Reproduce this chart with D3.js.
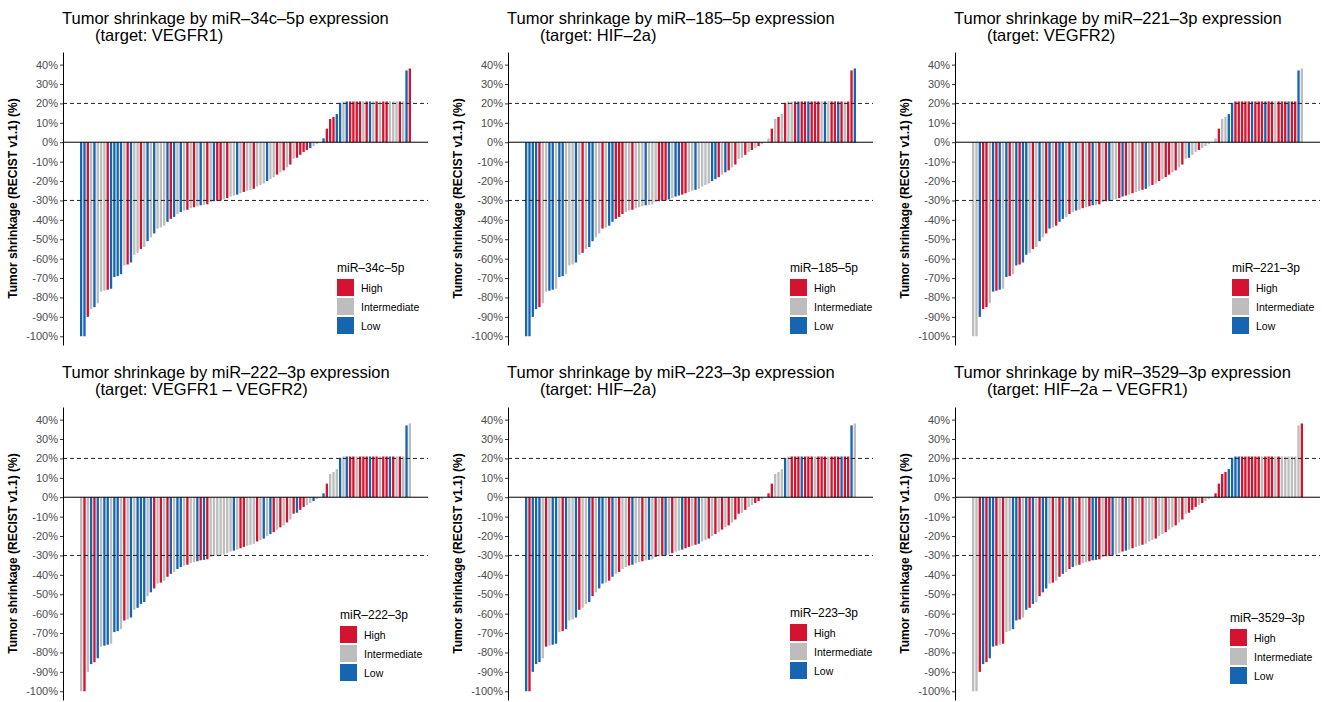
<!DOCTYPE html>
<html>
<head>
<meta charset="utf-8">
<script src="https://cdn.jsdelivr.net/npm/d3@7"></script>
<style>
  body { margin: 0; background: #fff; }
  svg { display: block; font-family: Arial, "Liberation Sans", sans-serif; }
</style>
</head>
<body>
<svg id="chart" width="1322" height="702"></svg>
<script>
// sorted tumour shrinkage, one value per patient (%)
const shrinkage = [-100, -100, -90, -86, -85, -83, -77, -76.5, -76, -75.5,
  -69.5, -69, -68, -63.5, -63, -62, -58, -57, -55, -54,
  -51, -49, -47, -44.5, -44, -43, -41, -39.5, -38.5, -37,
  -36, -35.2, -34.8, -34, -33.5, -33, -32.5, -32.3, -32, -30.8,
  -30.4, -30.2, -30, -29.5, -28.8, -28, -27.5, -27, -26.3, -25.6,
  -25, -24.5, -24, -22.8, -22, -21.3, -20, -19, -18, -16.7,
  -15.5, -14.5, -13, -11.5, -8.5, -8, -6.5, -5, -4, -3,
  -2, -1, 0, 2, 7, 12, 13, 14.5, 20.3, 21,
  21, 21, 21, 21, 21, 21, 21, 21, 21, 21,
  21, 21, 21, 21, 21, 21, 21, 21, 37, 38];

// expression group per bar (10 bars per string), H = High, I = Intermediate, L = Low
const grp34c = ["LLHILIIIHL", "LLLIHLIIHI", "LILIIILHLI", "LIHIHILIHI", "LHHIHIILIH",
  "IIHIIILIIH", "IHIHIHHHHL", "IIILHHHLLI", "LHHHHIHLIH", "IHHIIIHILH"].join("").split("");
const grp185 = ["LLLLHIILLI", "LLIIILIHIL", "LIIHILLHHH", "IIHIIILIII", "HHHLILLHHI",
  "ILIIIILLHI", "LHIHIIHIHI", "HIIIHIHIHI", "IHLHHLHHHI", "LIHHLHIHHL"].join("").split("");
const grp221 = ["IILHHILHLI", "LHILHLLIHI", "LIHLIHLLIH", "ILIHIHLIHI", "HLIIHLHIHI",
  "IHLIHIHIHH", "IHIHILIIHI", "IIIIHIILLH", "HHHHLHHHLH", "HIHHHLHHLI"].join("").split("");
const grp222 = ["IHILHLILLI", "LLIHILILLL", "ILHIHIHLIL", "LIHIILHLHI", "IIIIIILIHH",
  "IIIHILILHI", "HIHIHLHHII", "LIILHIIILI", "LHHIHHHLHH", "IHHLHIHILI"].join("").split("");
const grp223 = ["LHLLLIHILL", "IHLIILHIIL", "HILLIHLIHI", "IHLIIHILIH", "IHLIHIILHH",
  "IHLIIHIHIH", "IHIHHIHIIH", "HIIHHIIILI", "HHHLHHHIHH", "HIHHHLHHLI"].join("").split("");
const grp3529 = ["IIHLHLLHIH", "IILLHILHLI", "HLLIHIHLIH", "LIHIIHLLHI", "HHLIIHLIHI",
  "IHIIIHIIHI", "IHIHIHHHIH", "IIIHHHHLLL", "LHHHHHHIHH", "HIHIIIIIIH"].join("").split("");

const mirs = ["miR\u201334c\u20135p", "miR\u2013185\u20135p", "miR\u2013221\u20133p",
  "miR\u2013222\u20133p", "miR\u2013223\u20133p", "miR\u20133529\u20133p"];
const targets = ["(target: VEGFR1)", "(target: HIF\u20132a)", "(target: VEGFR2)",
  "(target: VEGFR1 \u2013 VEGFR2)", "(target: HIF\u20132a)", "(target: HIF\u20132a \u2013 VEGFR1)"];
const groups = [grp34c, grp185, grp221, grp222, grp223, grp3529];
const yTicks = d3.range(-100, 41, 10);
const levels = ["H", "I", "L"];
const levelNames = ["High", "Intermediate", "Low"];
const refLines = [20, -30];

const colour = d3.scaleOrdinal().domain(levels).range(["#D3132F", "#BDBDBD", "#1565B0"]).unknown("#BDBDBD");

const svg = d3.select("#chart");
const axisX = [63, 508, 955];
const rowTop = [52, 407];
const titleY = [24, 378];
const legendPos = [
  {x: 337, y: 272}, {x: 790, y: 272}, {x: 1232, y: 272},
  {x: 340, y: 619}, {x: 790, y: 617}, {x: 1230, y: 622}
];

groups.forEach((grp, p) => {
  const col = p % 3, row = Math.floor(p / 3);
  const ax = axisX[col];
  const g = svg.append("g");

  const y = d3.scaleLinear().domain([-104.5, 46.5]).range([rowTop[row] + 293, rowTop[row]]);
  const x = d3.scaleBand().domain(d3.range(shrinkage.length))
    .range([ax + 16, ax + 349]).padding(0.3);

  // title
  const t = g.append("text").attr("font-size", 16.5).attr("fill", "#000");
  t.append("tspan").attr("x", ax - 1).attr("y", titleY[row])
    .text("Tumor shrinkage by " + mirs[p] + " expression");
  t.append("tspan").attr("x", ax + 32).attr("y", titleY[row] + 17).text(targets[p]);

  // bars
  g.append("g").selectAll("rect").data(shrinkage).enter().append("rect")
    .attr("x", (d, i) => x(i))
    .attr("width", x.bandwidth())
    .attr("y", d => y(Math.max(0, d)))
    .attr("height", d => Math.abs(y(d) - y(0)))
    .attr("fill", (d, i) => colour(grp[i]));

  // zero line and reference lines
  g.append("line").attr("x1", ax).attr("x2", ax + 365)
    .attr("y1", y(0)).attr("y2", y(0)).attr("stroke", "#000").attr("stroke-width", 1);
  g.selectAll(".ref").data(refLines).enter().append("line")
    .attr("x1", ax).attr("x2", ax + 365)
    .attr("y1", d => y(d)).attr("y2", d => y(d))
    .attr("stroke", "#222").attr("stroke-width", 1).attr("stroke-dasharray", "4,3");

  // y axis
  const yAxis = d3.axisLeft(y).tickValues(yTicks).tickSize(3).tickSizeOuter(0)
    .tickFormat(d => d + "%");
  const ag = g.append("g").attr("transform", `translate(${ax},0)`).call(yAxis);
  ag.select(".domain").attr("stroke", "#000");
  ag.selectAll(".tick line").attr("stroke", "#333");
  ag.selectAll(".tick text").attr("fill", "#4D4D4D").attr("font-size", 11)
    .attr("font-family", "Arial, 'Liberation Sans', sans-serif").attr("x", -5);

  g.append("text")
    .attr("transform", `translate(${ax - 46},${y(-29)}) rotate(-90)`)
    .attr("text-anchor", "middle").attr("font-weight", "bold").attr("font-size", 12)
    .text("Tumor shrinkage (RECIST v1.1) (%)");

  // legend
  const lp = legendPos[p];
  const lg = g.append("g").attr("transform", `translate(${lp.x},${lp.y})`);
  lg.append("text").attr("font-size", 12).attr("fill", "#000").text(mirs[p]);
  levels.forEach((lv, k) => {
    lg.append("rect").attr("x", 0).attr("y", 7 + k * 19).attr("width", 17).attr("height", 17)
      .attr("fill", colour(lv));
    lg.append("text").attr("x", 24).attr("y", 19.5 + k * 19).attr("font-size", 10.5)
      .attr("fill", "#000").text(levelNames[k]);
  });
});
</script>
</body>
</html>
